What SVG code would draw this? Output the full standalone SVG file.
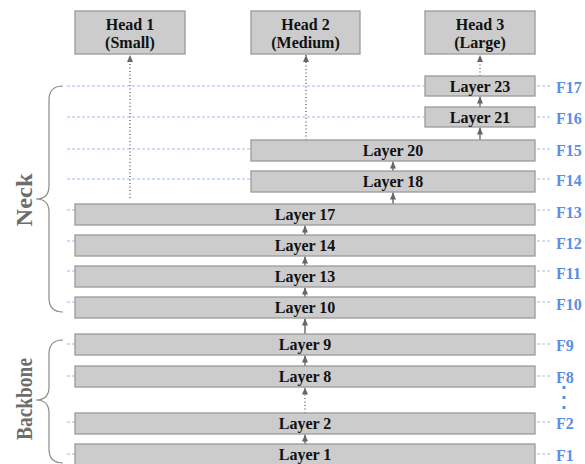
<svg xmlns="http://www.w3.org/2000/svg" width="585" height="464" viewBox="0 0 585 464">
<style>
.box{fill:#cccccc;stroke:#9a9a9a;stroke-width:1.3}
.t{font-family:"Liberation Serif","Times New Roman",serif;font-weight:bold;font-size:16px;fill:#111;text-anchor:middle}
.f{font-family:"Liberation Serif","Times New Roman",serif;font-weight:bold;font-size:16px;fill:#5a8ee8}
.grid{stroke:#9dbcf2;stroke-width:1;stroke-dasharray:3 2;fill:none}
.arr{stroke:#666;stroke-width:1.4;fill:none;marker-end:url(#ah)}
.dot{stroke:#666;stroke-width:1.4;fill:none;stroke-dasharray:1 2.5;marker-end:url(#ah)}
.brace{stroke:#8a8a8a;stroke-width:1.2;fill:none}
.side{font-family:"Liberation Serif","Times New Roman",serif;font-weight:bold;font-size:24px;fill:#6d6d6d;text-anchor:middle}
</style>
<defs>
<marker id="ah" markerUnits="userSpaceOnUse" markerWidth="7" markerHeight="6" viewBox="0 0 7 6" refX="7" refY="3" orient="auto">
<path d="M0,0 L7,3 L0,6 Z" fill="#666"/>
</marker>
</defs>
<rect width="585" height="464" fill="#fff"/>
<g id="grid">
<line class="grid" x1="67" y1="86" x2="550" y2="86"/>
<line class="grid" x1="67" y1="117" x2="550" y2="117"/>
<line class="grid" x1="67" y1="149" x2="550" y2="149"/>
<line class="grid" x1="67" y1="179" x2="550" y2="179"/>
<line class="grid" x1="67" y1="210" x2="550" y2="210"/>
<line class="grid" x1="67" y1="241" x2="550" y2="241"/>
<line class="grid" x1="67" y1="271" x2="550" y2="271"/>
<line class="grid" x1="67" y1="302" x2="550" y2="302"/>
<line class="grid" x1="67" y1="344" x2="550" y2="344"/>
<line class="grid" x1="67" y1="376" x2="550" y2="376"/>
<line class="grid" x1="67" y1="422" x2="550" y2="422"/>
<line class="grid" x1="67" y1="454" x2="550" y2="454"/>
</g>
<g id="labels-f">
<text class="f" x="556" y="93">F17</text>
<text class="f" x="556" y="124">F16</text>
<text class="f" x="556" y="156">F15</text>
<text class="f" x="556" y="186">F14</text>
<text class="f" x="556" y="218">F13</text>
<text class="f" x="556" y="249">F12</text>
<text class="f" x="556" y="279">F11</text>
<text class="f" x="556" y="310">F10</text>
<text class="f" x="556" y="351">F9</text>
<text class="f" x="556" y="383">F8</text>
<text class="f" x="556" y="429">F2</text>
<text class="f" x="556" y="461">F1</text>
<rect x="562.5" y="386" width="3" height="3" fill="#5a8ee8"/>
<rect x="562.5" y="396" width="3" height="3" fill="#5a8ee8"/>
<rect x="562.5" y="406" width="3" height="3" fill="#5a8ee8"/>
</g>
<g id="connectors">
<line class="dot" x1="130" y1="198" x2="130" y2="55"/>
<line class="dot" x1="306" y1="140" x2="306" y2="55"/>
<line class="dot" x1="480" y1="76" x2="480" y2="55"/>
<line class="arr" x1="480" y1="107" x2="480" y2="96.5"/>
<line class="arr" x1="480" y1="140" x2="480" y2="127.5"/>
<line class="arr" x1="393" y1="171" x2="393" y2="161.5"/>
<line class="arr" x1="393" y1="204" x2="393" y2="192.5"/>
<line class="arr" x1="305" y1="235" x2="305" y2="225.5"/>
<line class="arr" x1="305" y1="266" x2="305" y2="256.5"/>
<line class="arr" x1="305" y1="297" x2="305" y2="287.5"/>
<line class="arr" x1="305" y1="334" x2="305" y2="318.5"/>
<line class="arr" x1="305" y1="366" x2="305" y2="355.5"/>
<line class="dot" x1="305" y1="413" x2="305" y2="387.5"/>
<line class="arr" x1="305" y1="444" x2="305" y2="434.5"/>
</g>
<g id="head1"><rect class="box" x="75" y="11" width="110" height="43"/><text class="t" x="130" y="30">Head 1</text><text class="t" x="130" y="48">(Small)</text></g>
<g id="head2"><rect class="box" x="251" y="11" width="109" height="43"/><text class="t" x="305.5" y="30">Head 2</text><text class="t" x="305.5" y="48">(Medium)</text></g>
<g id="head3"><rect class="box" x="425" y="11" width="110" height="43"/><text class="t" x="480" y="30">Head 3</text><text class="t" x="480" y="48">(Large)</text></g>
<g id="layer23"><rect class="box" x="425" y="76" width="110" height="20"/><text class="t" x="480" y="92">Layer 23</text></g>
<g id="layer21"><rect class="box" x="425" y="107" width="110" height="20"/><text class="t" x="480" y="123">Layer 21</text></g>
<g id="layer20"><rect class="box" x="251" y="140" width="284" height="21"/><text class="t" x="393" y="156">Layer 20</text></g>
<g id="layer18"><rect class="box" x="251" y="171" width="284" height="21"/><text class="t" x="393" y="187">Layer 18</text></g>
<g id="layer17"><rect class="box" x="75" y="204" width="460" height="21"/><text class="t" x="305" y="220">Layer 17</text></g>
<g id="layer14"><rect class="box" x="75" y="235" width="460" height="21"/><text class="t" x="305" y="251">Layer 14</text></g>
<g id="layer13"><rect class="box" x="75" y="266" width="460" height="21"/><text class="t" x="305" y="282">Layer 13</text></g>
<g id="layer10"><rect class="box" x="75" y="297" width="460" height="21"/><text class="t" x="305" y="313">Layer 10</text></g>
<g id="layer9"><rect class="box" x="75" y="334" width="460" height="21"/><text class="t" x="305" y="350">Layer 9</text></g>
<g id="layer8"><rect class="box" x="75" y="366" width="460" height="21"/><text class="t" x="305" y="382">Layer 8</text></g>
<g id="layer2"><rect class="box" x="75" y="413" width="460" height="21"/><text class="t" x="305" y="429">Layer 2</text></g>
<g id="layer1"><rect class="box" x="75" y="444" width="460" height="21"/><text class="t" x="305" y="460">Layer 1</text></g>
<g id="neck">
<path class="brace" d="M63,86 Q49,86 49,100 L49,186 Q49,199 36,199 Q49,199 49,212 L49,298 Q49,312 63,312"/>
<text class="side" transform="translate(32,200) rotate(-90)" textLength="53" lengthAdjust="spacingAndGlyphs">Neck</text>
</g>
<g id="backbone">
<path class="brace" d="M63,340 Q49,340 49,354 L49,387 Q49,400 36,400 Q49,400 49,413 L49,449 Q49,463 63,463"/>
<text class="side" transform="translate(32,399) rotate(-90)" textLength="82" lengthAdjust="spacingAndGlyphs">Backbone</text>
</g>
</svg>
